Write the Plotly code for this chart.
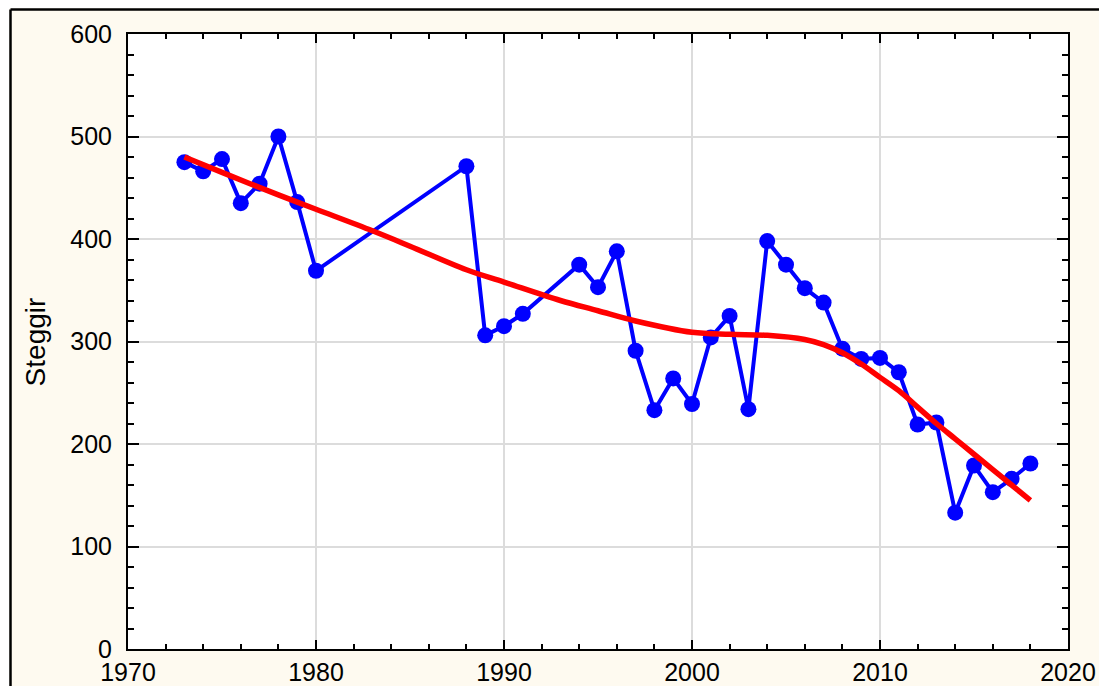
import plotly.graph_objects as go

years = [1973, 1974, 1975, 1976, 1977, 1978, 1979, 1980, 1988, 1989, 1990, 1991,
         1994, 1995, 1996, 1997, 1998, 1999, 2000, 2001, 2002, 2003, 2004, 2005,
         2006, 2007, 2008, 2009, 2010, 2011, 2012, 2013, 2014, 2015, 2016, 2017, 2018]
steggir = [475, 466, 478, 435, 454, 500, 436, 369, 471, 306, 315, 327,
           375, 353, 388, 291, 233, 264, 239, 304, 325, 234, 398, 375,
           352, 338, 293, 283, 284, 270, 219, 221, 133, 179, 153, 166, 181]

trend_years = [1973, 1975, 1978, 1980, 1983, 1985, 1988, 1990, 1993, 1995, 1997,
               2000, 2002, 2004, 2006, 2007, 2008, 2009, 2010, 2011, 2012, 2013,
               2014, 2015, 2016, 2017, 2018]
trend_vals = [480, 465, 443, 429, 408, 393, 370, 358, 340, 330, 320,
              309, 307, 306, 302, 297, 289, 278, 265, 252, 236, 220,
              205, 190, 175, 160, 145]

x_ticks = [1970, 1980, 1990, 2000, 2010, 2020]
y_ticks = [0, 100, 200, 300, 400, 500, 600]

fig = go.Figure()
fig.add_trace(go.Scatter(
    x=years, y=steggir, mode="lines+markers",
    line=dict(color="#0000ff", width=4),
    marker=dict(color="#0000ff", size=16, line=dict(width=0)),
    showlegend=False,
))
fig.add_trace(go.Scatter(
    x=trend_years, y=trend_vals, mode="lines",
    line=dict(color="#ff0000", width=5.5, shape="spline", smoothing=1.0),
    showlegend=False,
))

tickfont = dict(family="Liberation Sans, Arial, sans-serif", size=25, color="black")

fig.update_xaxes(
    range=[1970, 2020], tickvals=x_ticks, ticktext=[str(v) for v in x_ticks],
    showgrid=True, gridcolor="#dcdcdc", gridwidth=1.5,
    showline=True, linecolor="black", linewidth=2, mirror="ticks",
    ticks="inside", ticklen=9, tickwidth=2, tickcolor="black",
    minor=dict(dtick=2, tick0=1970, ticks="inside", ticklen=5, tickwidth=1.5,
               tickcolor="black", showgrid=False),
    tickfont=tickfont, ticklabelstandoff=0, zeroline=False, automargin=False,
)
fig.update_yaxes(
    range=[0, 600], tickvals=y_ticks, ticktext=[str(v) for v in y_ticks],
    showgrid=True, gridcolor="#dcdcdc", gridwidth=1.5,
    showline=True, linecolor="black", linewidth=2, mirror="ticks",
    ticks="inside", ticklen=11, tickwidth=2, tickcolor="black",
    minor=dict(dtick=20, tick0=0, ticks="inside", ticklen=6, tickwidth=1.5,
               tickcolor="black", showgrid=False),
    tickfont=tickfont, ticklabelstandoff=9, zeroline=False, automargin=False,
)

shapes = [
    dict(type="rect", xref="paper", yref="paper", x0=-0.3, x1=1.2, y0=1.0419, y1=1.2,
         fillcolor="white", line=dict(width=0), layer="above"),
    dict(type="rect", xref="paper", yref="paper", x0=-0.3, x1=-0.1263, y0=-0.2, y1=1.2,
         fillcolor="white", line=dict(width=0), layer="above"),
    dict(type="line", xref="paper", yref="paper", x0=-0.125, x1=1.2, y0=1.0398, y1=1.0398,
         line=dict(color="black", width=2.5), layer="above"),
    dict(type="line", xref="paper", yref="paper", x0=-0.125, x1=-0.125, y0=-0.2, y1=1.0398,
         line=dict(color="black", width=2.5), layer="above"),
]

# The page body has an 8px margin, so the figure is offset by (8, 8) in the window.
fig.update_layout(
    width=1107, height=686,
    margin=dict(l=120, r=47, t=26, b=45, autoexpand=False),
    paper_bgcolor="#fefaf0", plot_bgcolor="white",
    shapes=shapes,
    annotations=[dict(
        text="Steggir", xref="paper", yref="paper", x=-0.098, y=0.5,
        xanchor="center", yanchor="middle", textangle=-90, showarrow=False,
        font=dict(family="Liberation Sans, Arial, sans-serif", size=28, color="black"),
    )],
)

fig.write_html("out.html")
